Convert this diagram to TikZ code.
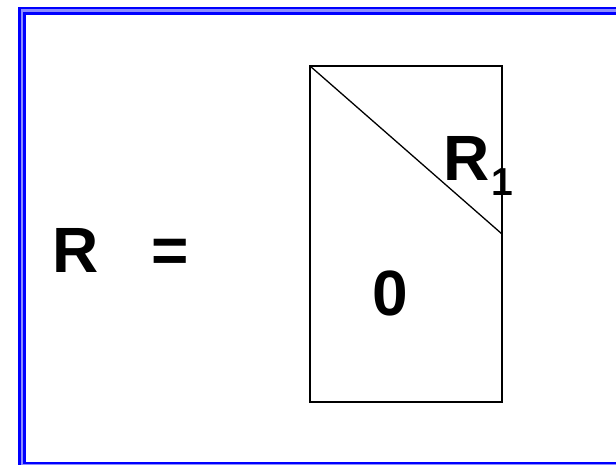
\documentclass[tikz,border=0pt]{standalone}
\usepackage{fontspec}
\setmainfont{Liberation Sans}
\begin{document}
\begin{tikzpicture}[
  x=1pt,y=-1pt,
  every node/.style={font=\fontsize{64}{64}\selectfont\bfseries,inner sep=0pt},
  every path/.style={line width=1.3pt},
  sub/.style={font=\fontsize{39}{39}\selectfont\bfseries,inner sep=0pt}]
  \useasboundingbox (0,0) rectangle (616,464);
  % double blue frame, cut off at the right and bottom
  \fill[blue] (18,6.7) rectangle (640,490);
  \fill[blue!45!white] (20.7,9.3) rectangle (640,490);
  \fill[blue] (23,12) rectangle (640,464);
  \fill[white] (25.7,14.7) rectangle (640,461.5);

  % left-hand side
  \node[anchor=base] (lhs) at (75.5,272) {R};
  \node[anchor=base] (eq) at (170.5,272) {=};

  % the block with its triangle R_1 above the diagonal
  \coordinate (tl) at (310,66);
  \coordinate (br) at (502,402);
  \coordinate (cut) at (502,234);
  \node[anchor=base west] (r) at (443,180) {R};
  \node[sub,anchor=base west] (one) at (r.base east) [yshift=-15pt] {1};
  \node[anchor=base] (zero) at (390,315) {0};
  \draw (tl) rectangle (br);
  \draw (tl) -- (cut);
\end{tikzpicture}
\end{document}
